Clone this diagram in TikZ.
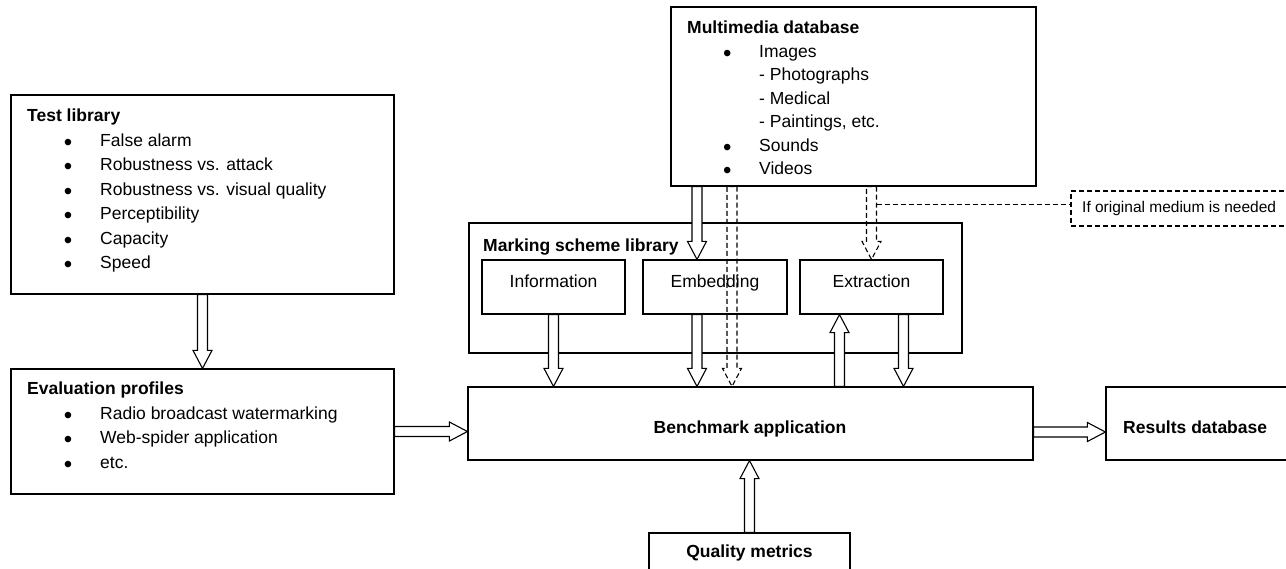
\documentclass[tikz,border=0pt]{standalone}
\usepackage{fontspec}
\setmainfont{Liberation Sans}
\usetikzlibrary{calc}

% bullet hanging 32pt to the left of the item text
\newcommand\bitem{\llap{\makebox[0pt]{\raisebox{-4.2pt}{\fontsize{24}{24}\selectfont\textbullet}}\hspace{32pt}}}

% hollow block arrow from #2 to #3 (named coordinates), style #1
\newcommand\fatarrow[3][fatline]{%
  \coordinate (fah) at ($(#3)!18pt!(#2)$);
  \path[#1] ($(#2)!5pt!90:(#3)$) -- ($(fah)!5pt!-90:(#2)$) -- ($(fah)!9.5pt!-90:(#2)$)
    -- (#3) -- ($(fah)!9.5pt!90:(#2)$) -- ($(fah)!5pt!90:(#2)$)
    -- ($(#2)!5pt!-90:(#3)$) -- cycle;}

\begin{document}
\begin{tikzpicture}[x=1pt,y=-1pt,
  font=\fontsize{17.5}{21}\selectfont,
  box/.style={draw, line width=1.2pt, inner sep=0pt},
  txt/.style={inner sep=0pt, anchor=base west},
  ctxt/.style={inner sep=0pt, anchor=base},
  head/.style={txt, font=\fontsize{17.5}{21}\selectfont\bfseries},
  headc/.style={ctxt, font=\fontsize{17.5}{21}\selectfont\bfseries},
  fatline/.style={draw, fill=white, line width=1.1pt, line join=miter},
  fatdash/.style={draw, line width=1.1pt, dash pattern=on 5pt off 3pt},
]
\useasboundingbox (0,0) rectangle (1286,568);

% ---- boxes
\node[box, minimum width=383pt, minimum height=199pt] (test)    at (202.5,194.5) {};
\node[box, minimum width=383pt, minimum height=125pt] (eval)    at (202.5,431.5) {};
\node[box, minimum width=565pt, minimum height=73pt]  (bench)   at (750.5,423.5) {};
\node[box, minimum width=194pt, minimum height=73pt]  (results) at (1203,423.5) {};
\node[box, minimum width=201pt, minimum height=57pt]  (quality) at (749.5,561.5) {};
\node[box, minimum width=365pt, minimum height=179pt] (mmdb)    at (853.5,96.5) {};
\node[box, minimum width=493pt, minimum height=130pt] (msl)     at (715.5,288) {};
\node[box, minimum width=143pt, minimum height=54pt]  (info)    at (553.5,287) {};
\node[box, minimum width=144pt, minimum height=54pt]  (emb)     at (715,287) {};
\node[box, minimum width=143pt, minimum height=54pt]  (extr)    at (871.5,287) {};
\node[box, dash pattern=on 5pt off 3pt, line width=1.1pt,
      minimum width=229pt, minimum height=35pt]      (note)    at (1185.5,208.5) {};

% ---- connector end points
\coordinate (evB)  at (eval.east -| bench.west);
\coordinate (beR)  at ($(bench.east)+(0,8.5)$);
\coordinate (reL)  at (beR -| results.west);
\coordinate (quB)  at (quality.north |- bench.south);
\coordinate (emIn) at ($(emb.north)+(-18,0)$);
\coordinate (mmE)  at (emIn |- mmdb.south);
\coordinate (emOut) at ($(emb.south)+(-18,0)$);
\coordinate (emB)  at (emOut |- bench.north);
\coordinate (inB)  at (info.south |- bench.north);
\coordinate (exIn) at ($(extr.south)+(-32,0)$);
\coordinate (exBi) at (exIn |- bench.north);
\coordinate (exOut) at ($(extr.south)+(32,0)$);
\coordinate (exBo) at (exOut |- bench.north);
\coordinate (orig) at ($(emb.north)+(17,0)$);
\coordinate (origT) at (orig |- mmdb.south);
\coordinate (origB) at (orig |- bench.north);
\coordinate (mmX)  at (extr.north |- mmdb.south);
\coordinate (noteL) at ($(extr.north)+(5,-55)$);

% ---- solid block arrows
\fatarrow{test.south}{eval.north}
\fatarrow{eval.east}{evB}
\fatarrow{beR}{reL}
\fatarrow{quality.north}{quB}
\fatarrow{mmE}{emIn}
\fatarrow{info.south}{inB}
\fatarrow{emOut}{emB}
\fatarrow{exBi}{exIn}
\fatarrow{exOut}{exBo}

% ---- dashed block arrows and note line
\fatarrow[fatdash]{origT}{origB}
\fatarrow[fatdash]{mmX}{extr.north}
\draw[fatdash] (noteL) -- (noteL -| note.west);

% ---- Test library
\node[head] (testH) at (27,121.5) {Test library};
\node[txt] (test1) at (100,146)   {\bitem False alarm};
\node[txt] (test2) at (100,170.5) {\bitem Robustness vs. attack};
\node[txt] (test3) at (100,195)   {\bitem Robustness vs. visual quality};
\node[txt] (test4) at (100,219.5) {\bitem Perceptibility};
\node[txt] (test5) at (100,244)   {\bitem Capacity};
\node[txt] (test6) at (100,268.5) {\bitem Speed};

% ---- Evaluation profiles
\node[head] (evalH) at (27,394.5) {Evaluation profiles};
\node[txt] (eval1) at (100,419)   {\bitem Radio broadcast watermarking};
\node[txt] (eval2) at (100,443.5) {\bitem Web-spider application};
\node[txt] (eval3) at (100,468)   {\bitem etc.};

% ---- Multimedia database
\node[head] (mmH) at (687,33.5) {Multimedia database};
\node[txt] (mm1) at (759,57)    {\bitem Images};
\node[txt] (mm2) at (759,80.5)  {- Photographs};
\node[txt] (mm3) at (759,104)   {- Medical};
\node[txt] (mm4) at (759,127.5) {- Paintings, etc.};
\node[txt] (mm5) at (759,151)   {\bitem Sounds};
\node[txt] (mm6) at (759,174.5) {\bitem Videos};

% ---- Marking scheme library
\node[head] (mslH) at (483,251.5) {Marking scheme library};
\node[ctxt] (infoT) at (553.5,287) {Information};
\node[ctxt] (embT)  at (715,287)   {Embedding};
\node[ctxt] (extrT) at (871.5,287) {Extraction};

% ---- remaining labels
\node[headc] (benchT) at (750,433) {Benchmark application};
\node[head]  (resT)   at (1123,433) {Results database};
\node[headc] (qualT)  at (749.5,557) {Quality metrics};
\node[txt, font=\fontsize{15.5}{18}\selectfont] (noteT) at (1082,212.5) {If original medium is needed};
\end{tikzpicture}
\end{document}
